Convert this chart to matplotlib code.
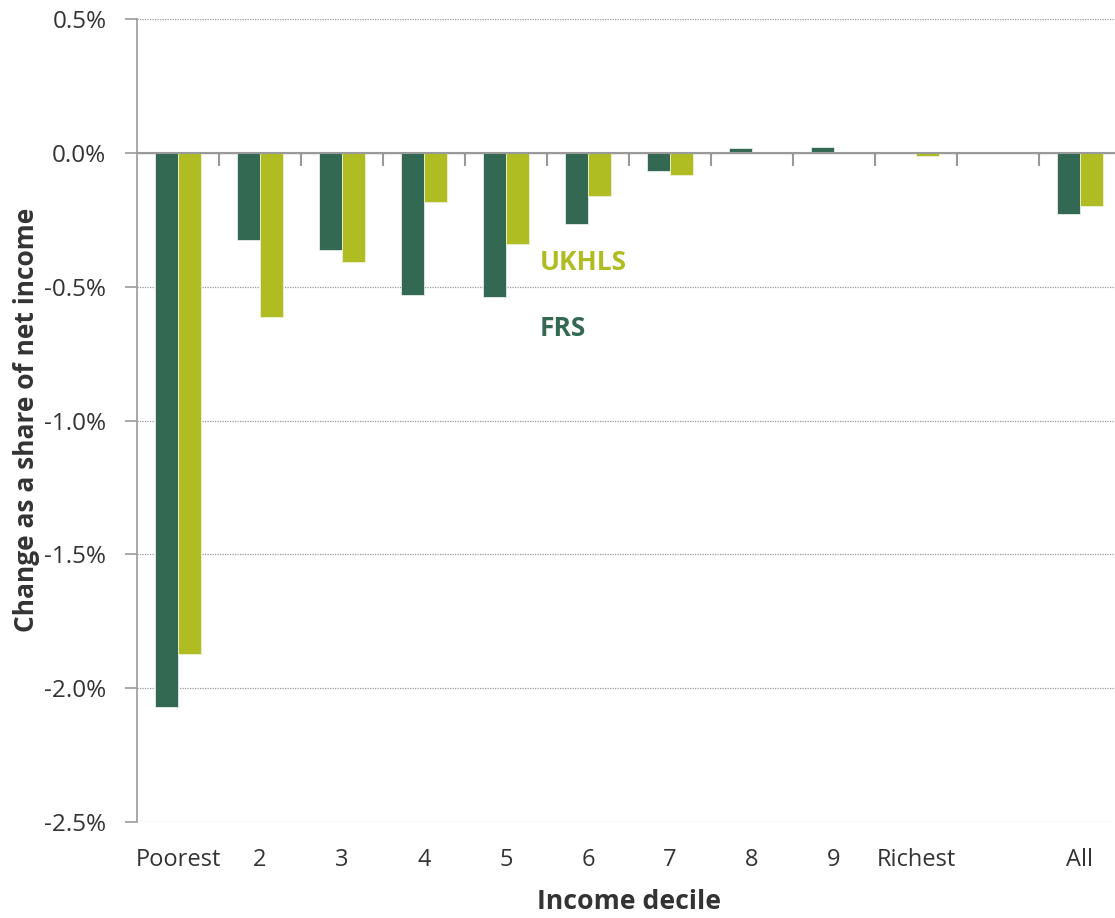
import matplotlib
matplotlib.use("Agg")
import matplotlib.pyplot as plt
import numpy as np
from matplotlib.ticker import FuncFormatter, FixedLocator

plt.rcParams['font.family'] = ['Open Sans', 'DejaVu Sans']
plt.rcParams['axes.unicode_minus'] = False

categories = ["Poorest", "2", "3", "4", "5", "6", "7", "8", "9", "Richest", "", "All"]
frs = [-2.07, -0.325, -0.362, -0.531, -0.537, -0.267, -0.067, 0.017, 0.020, 0.003, np.nan, -0.228]
ukhls = [-1.872, -0.612, -0.409, -0.182, -0.340, -0.162, -0.082, 0.0, 0.0, -0.012, np.nan, -0.200]
y_ticks = [-2.5, -2.0, -1.5, -1.0, -0.5, 0.0, 0.5]

FRS_COLOR = "#336852"
UKHLS_COLOR = "#AFBD22"
TEXT = "#333333"
AXIS_GRAY = "#9a9a9a"

fig = plt.figure(figsize=(11.15, 9.18), dpi=100)
ax = fig.add_axes([137/1115, 1 - 822/918, (1121-137)/1115, (822-19)/918])

x = np.arange(len(categories))
w = 0.28
ax.bar(x - w/2, frs, width=w, color=FRS_COLOR, edgecolor="#e6ece9", linewidth=0.6, zorder=3)
ax.bar(x + w/2, ukhls, width=w, color=UKHLS_COLOR, edgecolor="#eef1d5", linewidth=0.6, zorder=3)

ax.set_xlim(-0.5, len(categories) - 0.5)
ax.set_ylim(-2.5, 0.5)
ax.yaxis.set_major_locator(FixedLocator(y_ticks))
ax.yaxis.set_major_formatter(FuncFormatter(lambda v, p: f"{v:.1f}%"))
ax.grid(axis='y', linestyle=(0, (1, 1)), color=AXIS_GRAY, linewidth=0.9, zorder=0)
ax.set_axisbelow(True)

for s in ['top', 'right', 'bottom']:
    ax.spines[s].set_visible(False)
ax.spines['left'].set_color(AXIS_GRAY)
ax.spines['left'].set_linewidth(1.2)

ax.tick_params(axis='y', length=9, width=1.2, color=AXIS_GRAY, pad=13,
               labelsize=17.5, labelcolor=TEXT)
ax.set_xticks(x)
ax.set_xticklabels(categories)
ax.tick_params(axis='x', length=0, pad=19, labelsize=17, labelcolor=TEXT)

# zero line with category boundary ticks
sec = ax.secondary_xaxis(2.5/3.0)
sec.spines['bottom'].set_color(AXIS_GRAY)
sec.spines['bottom'].set_linewidth(1.5)
sec.set_xticks(np.arange(0.5, len(categories) - 1, 1.0))
sec.set_xticklabels([])
sec.xaxis.set_ticks_position('bottom')
sec.tick_params(axis='x', which='both', direction='out', bottom=True, top=False,
                length=9, width=1.5, color=AXIS_GRAY)
ax.axhline(0, color=AXIS_GRAY, linewidth=1.5, zorder=4)

ax.set_xlabel("Income decile", fontsize=19.2, fontweight='bold', color=TEXT, labelpad=12)
ax.set_ylabel("Change as a share of net income", fontsize=19, fontweight='bold', color=TEXT)
ax.yaxis.set_label_coords(-0.099, (822 - 420) / (822 - 19))

ax.text(4.41, -0.41, "UKHLS", color=UKHLS_COLOR, fontsize=19, fontweight='bold',
        ha='left', va='center')
ax.text(4.41, -0.655, "FRS", color=FRS_COLOR, fontsize=19, fontweight='bold',
        ha='left', va='center')

fig.savefig("out.png", dpi=100)
